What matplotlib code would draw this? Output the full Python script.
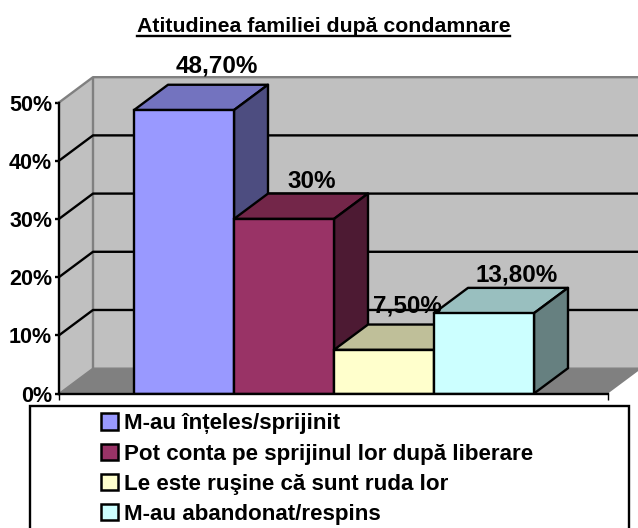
import matplotlib
matplotlib.use('Agg')
import matplotlib.pyplot as plt
from matplotlib.lines import Line2D
from matplotlib.patches import Patch, Polygon, Rectangle

plt.rcParams['font.family'] = ['Liberation Sans', 'DejaVu Sans']
plt.rcParams['font.weight'] = 'bold'

title = 'Atitudinea familiei după condamnare'
categories = ['M-au înțeles/sprijinit', 'Pot conta pe sprijinul lor după liberare',
              'Le este ruşine că sunt ruda lor', 'M-au abandonat/respins']
values = [48.7, 30, 7.5, 13.8]
value_labels = ['48,70%', '30%', '7,50%', '13,80%']
y_ticks = [0, 10, 20, 30, 40, 50]
y_tick_labels = ['0%', '10%', '20%', '30%', '40%', '50%']

face_colors = ['#9999FF', '#993366', '#FFFFCC', '#CCFFFF']
top_colors = ['#7373BF', '#732649', '#BFBF99', '#99BFBF']
side_colors = ['#4D4D80', '#4D1A33', '#808066', '#668080']

W, H = 638, 528
x_left, x_right = -0.75, 4.74  # front edge of the floor
dx, dy = 0.34, 4.35            # depth of the fake 3d

fig = plt.figure(figsize=(W / 100, H / 100), dpi=100)
ax = fig.add_axes([59 / W, (H - 393.5) / H, (W - 59) / W, 316 / H])
ax.set_xlim(x_left, x_left + (W - 59) / 100)
ax.set_ylim(0, 316 / 5.82)
ax.patch.set_visible(False)

lw = 1.7

# walls and floor
ax.add_patch(Polygon([(x_left, 0), (x_left + dx, dy), (x_left + dx, 50 + dy), (x_left, 50)],
                     fc='#C0C0C0', ec='none', zorder=1))
ax.add_patch(Rectangle((x_left + dx, dy), 6, 50, fc='#C0C0C0', ec='none', zorder=1))
ax.add_patch(Polygon([(x_left, 0), (x_right, 0), (x_right + dx, dy), (x_left + dx, dy)],
                     fc='#808080', ec='none', zorder=1))
ax.plot([x_left, x_left + dx, x_left + 7], [50, 50 + dy, 50 + dy],
        color='#808080', lw=lw, zorder=2, clip_on=False)
ax.plot([x_left + dx, x_left + dx], [dy, 50 + dy], color='#808080', lw=lw, zorder=2)
ax.plot([x_left, x_left + dx, x_right + dx], [0, dy, dy], color='#808080', lw=1, zorder=2)

# gridlines
for t in y_ticks[1:-1]:
    ax.plot([x_left, x_left + dx, x_left + 7], [t, t + dy, t + dy], color='black', lw=lw, zorder=2)

# bars
for i, v in enumerate(values):
    ax.add_patch(Polygon([(i, v), (i + 1, v), (i + 1 + dx, v + dy), (i + dx, v + dy)],
                         fc=top_colors[i], ec='black', lw=lw, joinstyle='round', zorder=3 + i))
    ax.add_patch(Polygon([(i + 1, 0), (i + 1 + dx, dy), (i + 1 + dx, v + dy), (i + 1, v)],
                         fc=side_colors[i], ec='black', lw=lw, joinstyle='round', zorder=3 + i))
    ax.add_patch(Rectangle((i, 0), 1, v, fc=face_colors[i], ec='black', lw=lw, zorder=3 + i))

# value labels, nudged by hand like the original
nudges = [(-1, 19), (-6, 12), (-11, 19), (-1, 13)]
for i, v in enumerate(values):
    ax.annotate(value_labels[i], (i + 0.5 + dx, v + dy), xytext=nudges[i], textcoords='offset pixels',
                ha='center', va='center', fontsize=17.5, zorder=10, annotation_clip=False)

# axes
for s in ['top', 'right']:
    ax.spines[s].set_visible(False)
ax.spines['left'].set_bounds(0, 50)
ax.spines['bottom'].set_bounds(x_left, x_right)
ax.spines['left'].set_linewidth(lw)
ax.spines['bottom'].set_linewidth(lw)
ax.spines['left'].set_zorder(8)
ax.spines['bottom'].set_zorder(8)
ax.set_yticks(y_ticks, y_tick_labels)
ax.set_xticks([x_left, x_right], ['', ''])
ax.tick_params(axis='y', length=3, width=lw, pad=2, labelsize=15.5)
ax.tick_params(axis='x', length=4, width=1)

# title with underline
t = fig.text(323.5 / W, 1 - 26 / H, title, ha='center', va='center', fontsize=15.3)
box = t.get_window_extent(fig.canvas.get_renderer())
fig.add_artist(Line2D([box.x0 / W, box.x1 / W], [1 - 36 / H] * 2, color='black', lw=1.7))

# legend box runs off the bottom of the picture
fig.add_artist(Rectangle((30 / W, -0.02), 599 / W, 0.02 + (H - 406) / H, transform=fig.transFigure,
                         fc='white', ec='black', lw=lw))
handles = [Patch(fc=c, ec='black', lw=1.8) for c in face_colors]
leg = fig.legend(handles, categories, loc='upper left', bbox_to_anchor=(97 / W, 1 - 409 / H),
                 frameon=False, fontsize=16.1, handlelength=0.75, handleheight=0.75, handletextpad=0.25,
                 labelspacing=0.41, borderpad=0.2, borderaxespad=0)
leg.set_zorder(20)

fig.savefig('out.png', dpi=100)
